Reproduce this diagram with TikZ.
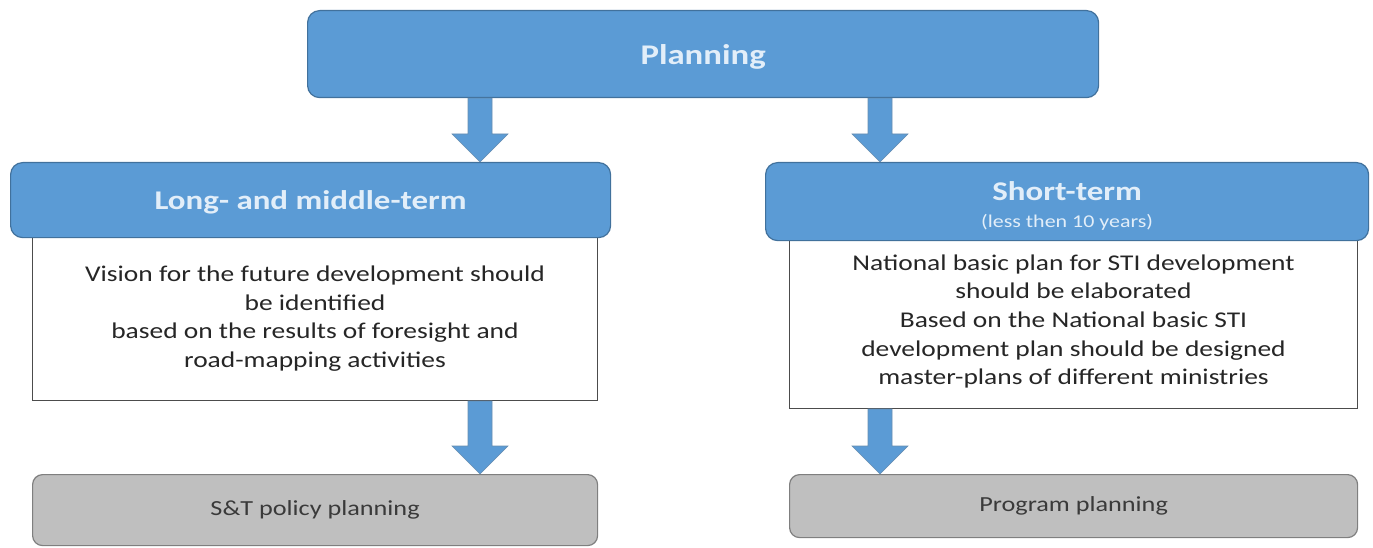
\documentclass[tikz,border=0pt]{standalone}
\usepackage{fontspec}
\setmainfont{Carlito}[FakeStretch=1.22]
\usetikzlibrary{calc}
\definecolor{hblue}{HTML}{5B9BD5}
\definecolor{hedge}{HTML}{41719C}
\definecolor{htext}{HTML}{E2EEF9}
\definecolor{gfill}{HTML}{BFBFBF}
\definecolor{gedge}{HTML}{7F7F7F}
\definecolor{btext}{HTML}{262626}
\definecolor{gtext}{HTML}{3A3A3A}
\tikzset{
  hdr/.style={draw=hedge, line width=1.2pt, fill=hblue, rounded corners=12pt, anchor=north west, inner sep=0pt, text=htext, align=center, font=\fontsize{27}{30}\selectfont\bfseries},
  bodybox/.style={draw=black!70, line width=1pt, fill=white, anchor=north west, inner sep=0pt, text=btext, align=center, font=\fontsize{22.5}{28.7}\selectfont},
  graybox/.style={draw=gedge, line width=1.2pt, fill=gfill, rounded corners=10pt, anchor=north west, inner sep=0pt, text=gtext, font=\fontsize{21.5}{25}\selectfont},
  barrowstyle/.style={fill=hblue, draw=hedge!80, line width=0.6pt, line join=miter}
}
\newcommand\blockarr[2]{%
  \draw[barrowstyle] let \p1=(#1), \p2=(#2) in
    (\x1-12pt,\y1) -- (\x1+12pt,\y1) -- (\x1+12pt,\y2+28pt) -- (\x1+28pt,\y2+28pt)
    -- (\x2,\y2) -- (\x1-28pt,\y2+28pt) -- (\x1-12pt,\y2+28pt) -- cycle;}
\newcommand\lowerby[2]{\raisebox{-#1}[\height][\depth]{#2}}
\begin{document}
\begin{tikzpicture}[x=1pt,y=-1pt]
\useasboundingbox (0,0) rectangle (1373,548);
% top
\node[hdr, minimum width=791pt, minimum height=87pt, font=\fontsize{28.5}{30}\selectfont\bfseries] (plan) at (307,10) {\lowerby{3pt}{Planning}};
% bodies (drawn before headers)
\node[bodybox, minimum width=565pt, minimum height=170pt] (lb) at (32,230) {\rule{0pt}{0pt}\\[-7pt]Vision for the future development should\\be identified\\based on the results of foresight and\\road-mapping activities};
\node[bodybox, minimum width=568pt, minimum height=175pt] (rb) at (789,233) {\rule{0pt}{0pt}\\[-12pt]National basic plan for STI development\\should be elaborated\\Based on the National basic STI\\development plan should be designed\\master-plans of different ministries};
% headers
\node[hdr, minimum width=600pt, minimum height=75pt] (lh) at (10,162) {\lowerby{2pt}{Long- and middle-term}};
\node[hdr, minimum width=603pt, minimum height=78pt] (rh) at (765,162) {\lowerby{6pt}{\begin{tabular}{@{}c@{}}Short-term\\[-3pt]{\fontsize{18}{20}\selectfont\mdseries (less then 10 years)}\end{tabular}}};
% gray boxes
\node[graybox, minimum width=565pt, minimum height=71pt] (lg) at (32,474) {S\&T policy planning};
\node[graybox, minimum width=568pt, minimum height=63pt] (rg) at (789,474) {Program planning};
% arrow axes
\coordinate (ax1) at (480,0);
\coordinate (ax2) at (880,0);
\coordinate (a1s) at (plan.south -| ax1);
\coordinate (a1e) at (lh.north -| ax1);
\coordinate (a2s) at (plan.south -| ax2);
\coordinate (a2e) at (rh.north -| ax2);
\coordinate (a3s) at (lb.south -| ax1);
\coordinate (a3e) at (lg.north -| ax1);
\coordinate (a4s) at (rb.south -| ax2);
\coordinate (a4e) at (rg.north -| ax2);
\blockarr{a1s}{a1e}
\blockarr{a2s}{a2e}
\blockarr{a3s}{a3e}
\blockarr{a4s}{a4e}
\end{tikzpicture}
\end{document}
